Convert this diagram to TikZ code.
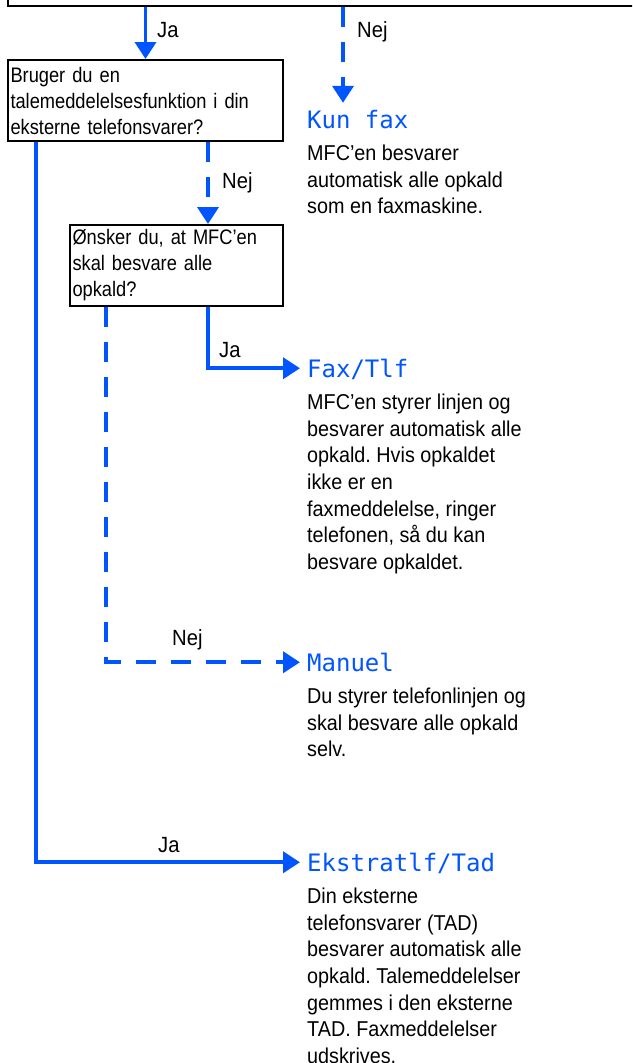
\documentclass[tikz,border=0pt]{standalone}
\usepackage{fontspec}
\setmainfont{Liberation Sans}[FakeStretch=0.92]
\newfontfamily\boxfont{Liberation Sans}[FakeStretch=0.87]
\newfontfamily\lcdfont{DejaVu Sans Mono}
\usetikzlibrary{positioning,arrows.meta}
\definecolor{flowblue}{RGB}{0,85,255}
\frenchspacing
\tikzset{
  qbox/.style={rectangle,draw=black,line width=2pt,inner xsep=2.5pt,inner ysep=0pt,
               minimum height=81pt,align=left,anchor=north west,
               font=\boxfont\fontsize{21}{26}\selectfont},
  head/.style={anchor=base west,inner sep=0pt,text height=17.5pt,text depth=0pt,
               text=flowblue,font=\lcdfont\fontsize{24}{24}\selectfont},
  desc/.style={inner sep=0pt,align=left,font=\fontsize{21.5}{26.6}\selectfont},
  lbl/.style={anchor=base west,inner sep=0pt,font=\fontsize{22}{24}\selectfont},
  jaedge/.style={draw=flowblue,line width=3.8pt,-{Triangle[length=17pt,width=21pt]}},
  nejedge/.style={jaedge,dash pattern=on 20pt off 15pt},
}

\begin{document}
\begin{tikzpicture}[x=1pt,y=-1pt]
\useasboundingbox (0,0) rectangle (632,1063);
\clip (0,0) rectangle (632,1063);

% Question boxes (left)
\node[draw=black,line width=2pt,minimum width=700pt,minimum height=60pt,
      anchor=south west,inner sep=0pt] (top) at (7,7) {};
\node[qbox,text width=270pt] (bruger) at (7,59)
  {Bruger du en\\talemeddelelsesfunktion i din\\eksterne telefonsvarer?};
\node[qbox,text width=208pt] (onsker) at (69,224)
  {Ønsker du, at MFC’en\\skal besvare alle\\opkald?};

% Modes (right)
\node[head] (kunfax) at (307,128) {Kun fax};
\node[head] (faxtlf) at (307,377) {Fax/Tlf};
\node[head] (manuel) at (307,671) {Manuel};
\node[head] (ekstra) at (307,871) {Ekstratlf/Tad};

\node[desc,below right=17pt and 0pt of kunfax.base west] (kunfaxtxt)
  {MFC’en besvarer\\automatisk alle opkald\\som en faxmaskine.};
\node[desc,below right=17pt and 0pt of faxtlf.base west] (faxtlftxt)
  {MFC’en styrer linjen og\\besvarer automatisk alle\\opkald. Hvis opkaldet\\ikke er en\\faxmeddelelse, ringer\\telefonen, så du kan\\besvare opkaldet.};
\node[desc,below right=17pt and 0pt of manuel.base west] (manueltxt)
  {Du styrer telefonlinjen og\\skal besvare alle opkald\\selv.};
\node[desc,below right=17pt and 0pt of ekstra.base west] (ekstratxt)
  {Din eksterne\\telefonsvarer (TAD)\\besvarer automatisk alle\\opkald. Talemeddelelser\\gemmes i den eksterne\\TAD. Faxmeddelelser\\udskrives.};

% Answer labels
\node[lbl] (ja1)  at (157,37)  {Ja};
\node[lbl] (nej1) at (357,37)  {Nej};
\node[lbl] (nej2) at (222,188) {Nej};
\node[lbl] (ja2)  at (219,357) {Ja};
\node[lbl] (nej3) at (172,645) {Nej};
\node[lbl] (ja3)  at (158,852) {Ja};

% Wiring
\coordinate (kuntip) at ([xshift=36pt,yshift=7.5pt]kunfax.north west);
\coordinate (midx) at (208,0);
\coordinate (nejx) at (106,0);
\coordinate (jax)  at (36,0);

\draw[jaedge]  (top.south -| bruger.north) -- (bruger.north);
\draw[nejedge] (top.south -| kuntip) -- (kuntip);
\draw[nejedge] (bruger.south -| midx) -- (onsker.north -| midx);
\draw[jaedge]  (onsker.south -| midx) |- ([xshift=-7pt]faxtlf.west);
\draw[nejedge] (onsker.south -| nejx) |- ([xshift=-7pt]manuel.west);
\draw[jaedge]  (bruger.south -| jax) |- ([xshift=-7pt]ekstra.west);

\end{tikzpicture}
\end{document}
